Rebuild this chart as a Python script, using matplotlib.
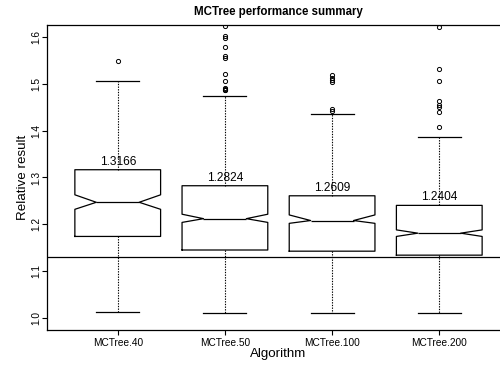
import matplotlib
matplotlib.use("Agg")
import matplotlib.pyplot as plt

plt.rcParams['font.family'] = ['Liberation Sans', 'DejaVu Sans']

categories = ["MCTree.40", "MCTree.50", "MCTree.100", "MCTree.200"]
q1 = [1.174, 1.145, 1.1425, 1.134]
med = [1.247, 1.212, 1.208, 1.181]
q3 = [1.3166, 1.2824, 1.2609, 1.2404]
ci_lo = [1.232, 1.204, 1.202, 1.174]
ci_hi = [1.263, 1.2215, 1.220, 1.188]
whisk_lo = [1.012, 1.010, 1.010, 1.010]
whisk_hi = [1.506, 1.475, 1.436, 1.386]
fliers = [
    [1.548],
    [1.623, 1.603, 1.599, 1.578, 1.560, 1.556, 1.521, 1.506, 1.491, 1.489, 1.488, 1.487],
    [1.519, 1.513, 1.509, 1.504, 1.447, 1.442],
    [1.622, 1.531, 1.506, 1.464, 1.455, 1.450, 1.439, 1.407],
]
box_labels = ["1.3166", "1.2824", "1.2609", "1.2404"]
reference_line = 1.13

fig = plt.figure(figsize=(5.0, 3.65), dpi=100)
ax = fig.add_axes([0.094, 0.0959, 0.926, 0.8356])

stats = []
for i, name in enumerate(categories):
    stats.append(dict(label=name, med=med[i], q1=q1[i], q3=q3[i],
                      cilo=ci_lo[i], cihi=ci_hi[i],
                      whislo=whisk_lo[i], whishi=whisk_hi[i],
                      fliers=fliers[i]))

positions = list(range(1, len(categories) + 1))
ax.bxp(stats, positions=positions, widths=0.8, shownotches=True,
       boxprops=dict(color='black', linewidth=0.9),
       medianprops=dict(color='black', linewidth=0.9),
       whiskerprops=dict(color='black', linewidth=0.8, linestyle=(0, (1.2, 1.2))),
       capprops=dict(color='black', linewidth=0.9),
       flierprops=dict(marker='o', markersize=3, markerfacecolor='none',
                       markeredgecolor='black', markeredgewidth=0.7))

ax.axhline(reference_line, color='black', linewidth=0.9)

for p, v, lab in zip(positions, q3, box_labels):
    ax.annotate(lab, xy=(p, v), xytext=(0, 1.5), textcoords='offset points',
                ha='center', va='bottom', fontsize=8.6)

ax.set_xlim(0.34, 4.66)
ax.set_ylim(0.974, 1.626)
ax.set_yticks([1.0, 1.1, 1.2, 1.3, 1.4, 1.5, 1.6])
ax.set_yticklabels(["1.0", "1.1", "1.2", "1.3", "1.4", "1.5", "1.6"],
                   rotation=90, va='center', fontsize=7.3)
ax.set_xticks(positions)
ax.set_xticklabels(categories, fontsize=7.3)
ax.tick_params(axis='x', length=3.6, width=0.8, pad=2)
ax.tick_params(axis='y', length=3.6, width=0.8, pad=0.8)

for s in ax.spines.values():
    s.set_linewidth(0.9)

ax.set_xlabel("Algorithm", fontsize=9.6, labelpad=0)
ax.set_ylabel("Relative result", fontsize=9.6, labelpad=1.5)
fig.text(278 / 500, 1 - 12 / 365, "MCTree performance summary", ha='center',
         va='center', fontsize=8.3, fontweight='bold')

fig.savefig("out.png", dpi=100)
